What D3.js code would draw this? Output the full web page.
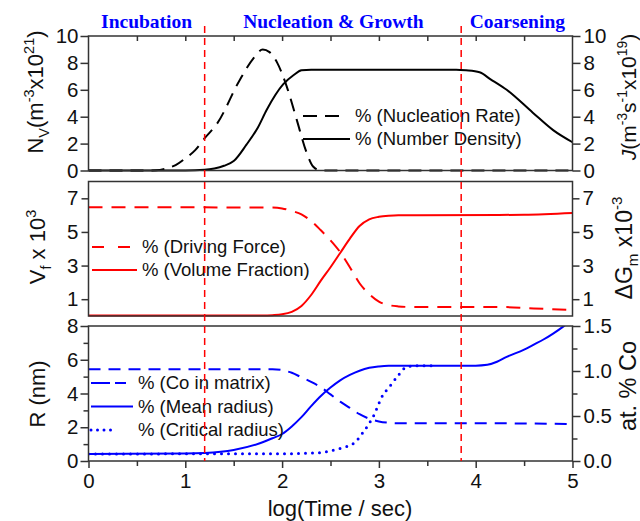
<!DOCTYPE html>
<html>
<head>
<meta charset="utf-8">
<script src="https://cdn.jsdelivr.net/npm/d3@7"></script>
<style>
  html, body { margin: 0; padding: 0; background: #fff; }
  svg { display: block; font-family: "Liberation Sans", Arial, sans-serif; }
</style>
</head>
<body>
<svg id="chart" width="640" height="521"></svg>
<script>
// ---- data (log time in seconds) ----
const phaseLabels = ["Incubation", "Nucleation & Growth", "Coarsening"];
const phaseCenters = [0.6, 2.53, 4.43];
const phaseBounds = [1.2, 3.85];

// top panel
const nucRateTime = [0, 0.6, 0.7, 0.8, 0.9, 1.0, 1.1, 1.2, 1.33, 1.56, 1.7, 1.8, 1.87, 1.95, 2.05, 2.15, 2.25, 2.32, 2.4, 3, 4, 5];
const nucRate     = [0, 0, 0.02, 0.15, 0.4, 0.9, 1.5, 2.4, 3.5, 6.7, 8.3, 9.0, 8.8, 8.0, 6.2, 3.8, 1.4, 0.3, 0, 0, 0, 0];
const numDensTime = [0, 1.0, 1.2, 1.3, 1.4, 1.5, 1.63, 1.75, 1.84, 2.01, 2.12, 2.2, 2.3, 3.8, 3.9, 4.04, 4.15, 4.32, 4.59, 4.8, 5.0];
const numDens     = [0, 0, 0.05, 0.15, 0.35, 0.7, 1.9, 3.2, 4.5, 6.4, 7.1, 7.45, 7.5, 7.5, 7.45, 7.3, 6.8, 6.0, 4.3, 3.0, 2.1];

// middle panel
const drivTime  = [0, 1.9, 2.0, 2.1, 2.2, 2.3, 2.4, 2.5, 2.6, 2.7, 2.8, 2.9, 3.0, 3.1, 3.2, 3.3, 4.3, 4.6, 5.0];
const drivForce = [6.47, 6.45, 6.4, 6.25, 6.05, 5.65, 5.1, 4.5, 3.8, 2.9, 1.95, 1.3, 0.85, 0.65, 0.57, 0.54, 0.53, 0.45, 0.35];
const volTime   = [0, 1.8, 1.9, 2.0, 2.1, 2.2, 2.3, 2.4, 2.5, 2.6, 2.7, 2.8, 2.9, 3.0, 3.1, 3.2, 3.4, 4.5, 5.0];
const volFrac   = [0.03, 0.03, 0.05, 0.1, 0.25, 0.6, 1.25, 2.1, 2.9, 3.75, 4.6, 5.35, 5.75, 5.9, 5.97, 6.0, 6.0, 6.02, 6.12];

// bottom panel
const coTime   = [0, 1.9, 2.0, 2.1, 2.2, 2.3, 2.4, 2.5, 2.6, 2.7, 2.8, 2.9, 3.0, 3.1, 3.2, 4.0, 5.0];
const coMatrix = [1.02, 1.02, 1.01, 0.98, 0.93, 0.88, 0.82, 0.74, 0.66, 0.59, 0.52, 0.47, 0.44, 0.425, 0.42, 0.42, 0.41];
const meanTime   = [0, 1.0, 1.2, 1.5, 1.77, 1.9, 2.0, 2.1, 2.2, 2.3, 2.4, 2.5, 2.6, 2.7, 2.8, 2.9, 3.0, 3.1, 3.3, 4.0, 4.12, 4.22, 4.32, 4.5, 4.6, 4.7, 4.8, 4.9, 5.0];
const meanRadius = [0.42, 0.44, 0.47, 0.65, 1.05, 1.35, 1.6, 2.05, 2.6, 3.25, 3.85, 4.35, 4.78, 5.1, 5.35, 5.52, 5.6, 5.64, 5.65, 5.65, 5.7, 5.88, 6.17, 6.6, 6.9, 7.2, 7.55, 7.95, 8.4];
const critTime   = [0, 2.0, 2.4, 2.46, 2.6, 2.74, 2.84, 2.94, 3.04, 3.11, 3.19, 3.29, 3.4, 3.6];
const critRadius = [0.42, 0.43, 0.5, 0.55, 0.75, 1.05, 1.73, 2.62, 3.9, 4.4, 5.0, 5.58, 5.65, 5.65];

// tick values
const xTicks = [0, 1, 2, 3, 4, 5];
const xMinor = [0.5, 1.5, 2.5, 3.5, 4.5];
const topTicks = [0, 2, 4, 6, 8, 10];
const midTicks = [1, 3, 5, 7];
const botTicks = [0, 2, 4, 6, 8];
const botMinor = [1, 3, 5, 7];
const coTicks = [0, 0.5, 1.0, 1.5];
const coMinor = [0.25, 0.75, 1.25];

const svg = d3.select("#chart");
const red = "#ff0000", blue = "#0000ff";
const frame = "#333";

// Scales
const x = d3.scaleLinear().domain([0, 5]).range([88.5, 572.5]);
const yTop = d3.scaleLinear().domain([0, 10]).range([170.5, 36]);
const yMid = d3.scaleLinear().domain([0, 8]).range([316, 181.5]);
const yBot = d3.scaleLinear().domain([0, 8]).range([461, 326]);
const yCo = d3.scaleLinear().domain([0, 1.5]).range([461, 326]);

const zip = (xs, ys) => xs.map((d, i) => [d, ys[i]]);

// draws an axis and styles it
function axis(gen, tx, ty, opts = {}) {
  const g = svg.append("g").attr("transform", `translate(${tx},${ty})`).call(gen);
  g.select(".domain").remove();
  g.selectAll(".tick line").attr("stroke", frame).attr("stroke-width", 1.5);
  g.selectAll(".tick text").attr("fill", "#111").style("font-size", "20.5px")
    .style("font-family", "'Liberation Sans', Arial, sans-serif");
  if (opts.noLabels) g.selectAll(".tick text").remove();
  return g;
}

function richText(parts, size, tx, ty, rotate, fam) {
  const t = svg.append("text")
    .attr("text-anchor", "middle")
    .attr("transform", `translate(${tx},${ty})` + (rotate ? ` rotate(${rotate})` : ""))
    .attr("fill", "#111")
    .style("font-size", size + "px");
  if (fam) t.style("font-family", fam);
  let off = 0;
  parts.forEach(p => {
    const target = p.sup ? -0.42 * size : p.sub ? 0.28 * size : 0;
    const ts = t.append("tspan").text(p.t).attr("dy", target - off);
    if (p.sup || p.sub) ts.style("font-size", (size * 0.66) + "px");
    if (p.it) ts.style("font-style", "italic");
    off = target;
  });
  return t;
}

function curve(data, yScale, color, dash, width = 2) {
  svg.append("path")
    .datum(data)
    .attr("fill", "none")
    .attr("stroke", color)
    .attr("stroke-width", width)
    .attr("stroke-dasharray", dash)
    .attr("d", d3.line().x(d => x(d[0])).y(d => yScale(d[1])).curve(d3.curveMonotoneX));
}

function legendItem(x1, x2, y, color, dash, width = 2) {
  svg.append("line").attr("x1", x1).attr("x2", x2).attr("y1", y).attr("y2", y)
    .attr("stroke", color).attr("stroke-width", width)
    .attr("stroke-dasharray", dash)
    .attr("stroke-linecap", dash && dash.startsWith("0") ? "round" : "butt");
}
function legendText(tx, y, label) {
  svg.append("text").attr("x", tx).attr("y", y).attr("dy", "0.35em")
    .attr("fill", "#111").style("font-size", "18.5px").text(label);
}

// clip for bottom panel (mean radius runs off the top)
svg.append("clipPath").attr("id", "clipBot").append("rect")
  .attr("x", x(0)).attr("y", yBot(8)).attr("width", x(5) - x(0)).attr("height", yBot(0) - yBot(8));

// ---- curves ----
curve(zip(nucRateTime, nucRate), yTop, "#000", "13,8");
curve(zip(numDensTime, numDens), yTop, "#000", null);

curve(zip(drivTime, drivForce), yMid, red, "14,9");
curve(zip(volTime, volFrac), yMid, red, null);

const botG = svg.append("g").attr("clip-path", "url(#clipBot)");
[[zip(critTime, critRadius), yBot, "0,7", 3], [zip(coTime, coMatrix), yCo, "12,8", 2], [zip(meanTime, meanRadius), yBot, null, 2]]
  .forEach(([data, ys, dash, w]) => {
    botG.append("path").datum(data)
      .attr("fill", "none").attr("stroke", blue).attr("stroke-width", w)
      .attr("stroke-dasharray", dash)
      .attr("stroke-linecap", dash && dash.startsWith("0") ? "round" : "butt")
      .attr("d", d3.line().x(d => x(d[0])).y(d => ys(d[1])).curve(d3.curveMonotoneX));
  });

// ---- frames ----
[yTop, yMid, yBot].forEach(ys => {
  const r = ys.range();
  svg.append("rect").attr("x", x(0)).attr("y", r[1]).attr("width", x(5) - x(0)).attr("height", r[0] - r[1])
    .attr("fill", "none").attr("stroke", frame).attr("stroke-width", 1.5);
});

// ---- axes ----
// top panel
axis(d3.axisLeft(yTop).tickValues(topTicks).tickSize(8).tickPadding(2), x(0), 0);
axis(d3.axisRight(yTop).tickValues(topTicks).tickSize(8).tickPadding(3), x(5), 0);
axis(d3.axisBottom(x).tickValues(d3.range(0.5, 5, 0.5)).tickSize(5), 0, yTop(10), { noLabels: true });
// middle panel
axis(d3.axisLeft(yMid).tickValues(midTicks).tickSize(7).tickPadding(3), x(0), 0);
axis(d3.axisRight(yMid).tickValues(midTicks).tickSize(7).tickPadding(3), x(5), 0);
// bottom panel
axis(d3.axisLeft(yBot).tickValues(botTicks).tickSize(8).tickPadding(2), x(0), 0);
axis(d3.axisLeft(yBot).tickValues(botMinor).tickSize(5), x(0), 0, { noLabels: true });
axis(d3.axisRight(yCo).tickValues(coTicks).tickFormat(d3.format(".1f")).tickSize(8).tickPadding(3), x(5), 0);
axis(d3.axisRight(yCo).tickValues(coMinor).tickSize(5), x(5), 0, { noLabels: true });
axis(d3.axisBottom(x).tickValues(xTicks).tickFormat(d3.format("d")).tickSize(7).tickPadding(5), 0, yBot(0));
axis(d3.axisBottom(x).tickValues(xMinor).tickSize(5), 0, yBot(0), { noLabels: true });

// ---- legends ----
legendItem(303, 340, 116, "#000", "14,8");
legendText(355, 116, "% (Nucleation Rate)");
legendItem(303, 350, 139, "#000", null);
legendText(355, 139, "% (Number Density)");

legendItem(92, 134, 247, red, "12,14");
legendText(142, 247, "% (Driving Force)");
legendItem(92, 137, 270, red, null);
legendText(142, 270, "% (Volume Fraction)");

legendItem(91, 126, 383, blue, "19,5");
legendText(138, 383, "% (Co in matrix)");
legendItem(91, 133, 406.5, blue, null);
legendText(138, 406.5, "% (Mean radius)");
legendItem(91, 112, 430, blue, "0,6.5", 3);
legendText(138, 430, "% (Critical radius)");

// ---- phase boundaries ----
svg.selectAll(".bound").data(phaseBounds).join("line")
  .attr("class", "bound")
  .attr("x1", d => x(d)).attr("x2", d => x(d))
  .attr("y1", 26).attr("y2", yBot(0))
  .attr("stroke", red).attr("stroke-width", 1.5).attr("stroke-dasharray", "7,5");

svg.selectAll(".phase").data(phaseLabels).join("text")
  .attr("class", "phase")
  .attr("x", (d, i) => x(phaseCenters[i])).attr("y", 28)
  .attr("text-anchor", "middle").attr("fill", blue)
  .style("font-family", "'Liberation Serif', 'Times New Roman', serif")
  .style("font-weight", "bold").style("font-size", "19.5px")
  .text(d => d);

// ---- axis titles ----
richText([{ t: "log(Time / sec)" }], 22, 340, 516, 0);

richText([{ t: "N" }, { t: "V", sub: true }, { t: "(m" }, { t: "-3", sup: true }, { t: "x10" }, { t: "21", sup: true }, { t: ")" }], 22, 43, 92, -90);
richText([{ t: "V" }, { t: "f", sub: true }, { t: " x 10" }, { t: "3", sup: true }], 22, 45, 247, -90);
richText([{ t: "R (nm)" }], 22, 45, 394, -90);

richText([{ t: "J", it: true }, { t: "(m" }, { t: "-3", sup: true }, { t: "s" }, { t: "-1", sup: true }, { t: "x10" }, { t: "19", sup: true }, { t: ")" }], 21, 636, 97, -90);
richText([{ t: "ΔG" }, { t: "m", sub: true }, { t: " x10" }, { t: "-3", sup: true }], 23, 632, 248, -90);
richText([{ t: "at. % Co" }], 23.5, 636, 386, -90);
</script>
</body>
</html>
